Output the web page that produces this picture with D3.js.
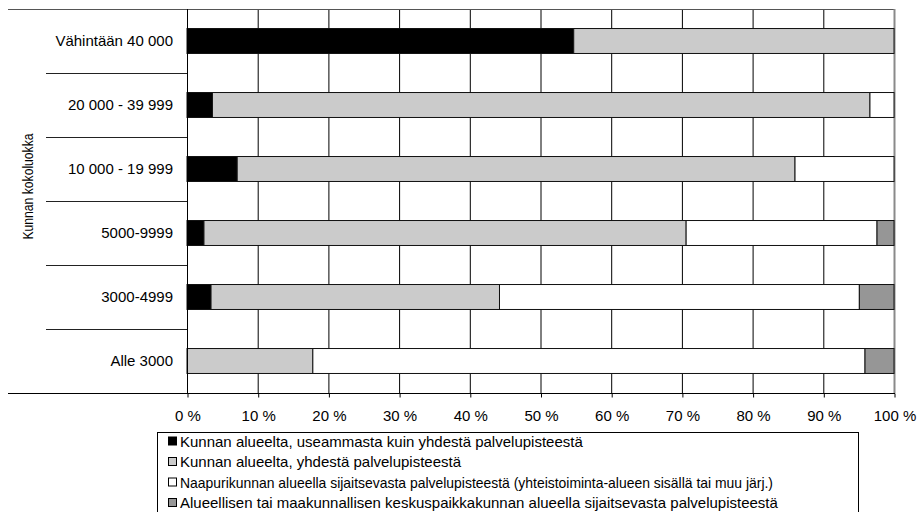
<!DOCTYPE html>
<html>
<head>
<meta charset="utf-8">
<script src="https://cdn.jsdelivr.net/npm/d3@7"></script>
<style>
  html, body { margin: 0; padding: 0; background: #fff; }
  svg text { font-family: Arial, "Liberation Sans", sans-serif; fill: #000; }
</style>
</head>
<body>
<svg id="chart" width="919" height="512"></svg>
<script>
// Kunnan kokoluokat (ylhäältä alas)
const categories = ["Vähintään 40 000", "20 000 - 39 999", "10 000 - 19 999", "5000-9999", "3000-4999", "Alle 3000"];

// Osuudet (%) luokittain
const useammasta = [54.7, 3.6, 7.1, 2.4, 3.4, 0];
const yhdesta    = [45.3, 93.0, 78.9, 68.2, 40.8, 17.8];
const naapuri    = [0, 3.4, 14.0, 27.0, 50.9, 78.1];
const keskus     = [0, 0, 0, 2.4, 4.9, 4.1];

const seriesNames = [
  "Kunnan alueelta, useammasta kuin yhdestä palvelupisteestä",
  "Kunnan alueelta, yhdestä palvelupisteestä",
  "Naapurikunnan alueella sijaitsevasta palvelupisteestä (yhteistoiminta-alueen sisällä tai muu järj.)",
  "Alueellisen tai maakunnallisen keskuspaikkakunnan alueella sijaitsevasta palvelupisteestä"
];
// Pitkä seliterivi tiivistetään tähän leveyteen (px)
const legendFit = [null, null, 593, null];
const seriesColors = ["#000000", "#cbcbcb", "#ffffff", "#969696"];
const tickValues = [0, 10, 20, 30, 40, 50, 60, 70, 80, 90, 100];

const keys = ["s0", "s1", "s2", "s3"];
const rows = categories.map((c, i) => ({
  cat: c, s0: useammasta[i], s1: yhdesta[i], s2: naapuri[i], s3: keskus[i]
}));

const svg = d3.select("#chart");
const plot = { left: 187, right: 894, top: 9, bottom: 393 };

const x = d3.scaleLinear().domain([0, 100]).range([plot.left, plot.right]);
const y = d3.scaleBand().domain(categories).range([plot.top, plot.bottom])
  .paddingInner(0.61).paddingOuter(0.305);
const step = y.step();

// Pystysuorat ruudukkoviivat
svg.append("g").selectAll("line").data(tickValues.filter(v => v > 0 && v < 100)).join("line")
  .attr("x1", d => x(d) + 0.5).attr("x2", d => x(d) + 0.5)
  .attr("y1", plot.top).attr("y2", plot.bottom)
  .attr("stroke", "#000").attr("stroke-width", 1);

// Kehyksen ylä- ja oikea reuna
svg.append("line").attr("x1", 8).attr("x2", plot.right + 1).attr("y1", plot.top + 0.5).attr("y2", plot.top + 0.5)
  .attr("stroke", "#555").attr("stroke-width", 1);
svg.append("line").attr("x1", plot.right + 0.5).attr("x2", plot.right + 0.5).attr("y1", plot.top).attr("y2", plot.bottom)
  .attr("stroke", "#8a8a8a").attr("stroke-width", 2);

// Luokkien erotinviivat vasemmalla
const sepY = d3.range(1, categories.length).map(i => plot.top + i * step);
svg.append("g").selectAll("line").data(sepY).join("line")
  .attr("x1", 46).attr("x2", plot.left).attr("y1", d => Math.round(d) + 0.5).attr("y2", d => Math.round(d) + 0.5)
  .attr("stroke", "#222").attr("stroke-width", 1);

// Pinotut palkit
const stacked = d3.stack().keys(keys)(rows);
svg.append("g").selectAll("g").data(stacked).join("g")
  .attr("fill", (d, i) => seriesColors[i])
  .selectAll("rect").data(d => d.filter(p => p[1] - p[0] > 0)).join("rect")
  .attr("x", d => x(d[0]))
  .attr("y", d => y(d.data.cat))
  .attr("width", d => x(d[1]) - x(d[0]))
  .attr("height", y.bandwidth())
  .attr("stroke", "#111").attr("stroke-width", 1);

// Vasen pystyakseli
svg.append("line").attr("x1", plot.left + 0.5).attr("x2", plot.left + 0.5).attr("y1", plot.top).attr("y2", plot.bottom)
  .attr("stroke", "#000").attr("stroke-width", 1);

// Vaaka-akseli
const xAxis = d3.axisBottom(x).tickValues(tickValues).tickSize(4).tickPadding(13)
  .tickFormat(d => d + " %");
const gx = svg.append("g").attr("transform", `translate(0.5,${plot.bottom + 0.5})`).call(xAxis);
gx.select(".domain").remove();
gx.selectAll(".tick line").attr("stroke", "#000");
gx.selectAll(".tick text").attr("font-size", 15).attr("font-family", "Arial, 'Liberation Sans', sans-serif");
svg.append("line").attr("x1", 8).attr("x2", plot.right + 1).attr("y1", plot.bottom + 0.5).attr("y2", plot.bottom + 0.5)
  .attr("stroke", "#000").attr("stroke-width", 1);

// Luokkien nimet
svg.append("g").selectAll("text").data(categories).join("text")
  .attr("x", 173)
  .attr("y", d => y(d) + y.bandwidth() / 2)
  .attr("dy", "0.35em")
  .attr("text-anchor", "end")
  .attr("font-size", 15)
  .text(d => d);

// Pystyakselin otsikko
svg.append("text")
  .attr("transform", "translate(33,186.5) rotate(-90)")
  .attr("text-anchor", "middle")
  .attr("font-size", 15)
  .attr("textLength", 106)
  .attr("lengthAdjust", "spacingAndGlyphs")
  .text("Kunnan kokoluokka");

// Selite
const lg = svg.append("g");
lg.append("rect").attr("x", 157.5).attr("y", 432.5).attr("width", 701).attr("height", 100)
  .attr("fill", "#fff").attr("stroke", "#000").attr("stroke-width", 1);
const items = lg.selectAll("g").data(seriesNames).join("g")
  .attr("transform", (d, i) => `translate(0,${441.5 + i * 20.5})`);
items.append("rect").attr("x", 168.5).attr("y", -4.5).attr("width", 8).attr("height", 8)
  .attr("fill", (d, i) => seriesColors[i]).attr("stroke", "#000").attr("stroke-width", 1);
items.append("text").attr("x", 180).attr("y", 0).attr("dy", "0.35em").attr("font-size", 15)
  .each(function(d, i) {
    if (legendFit[i]) d3.select(this).attr("textLength", legendFit[i]).attr("lengthAdjust", "spacingAndGlyphs");
  })
  .text(d => d);
</script>
</body>
</html>
